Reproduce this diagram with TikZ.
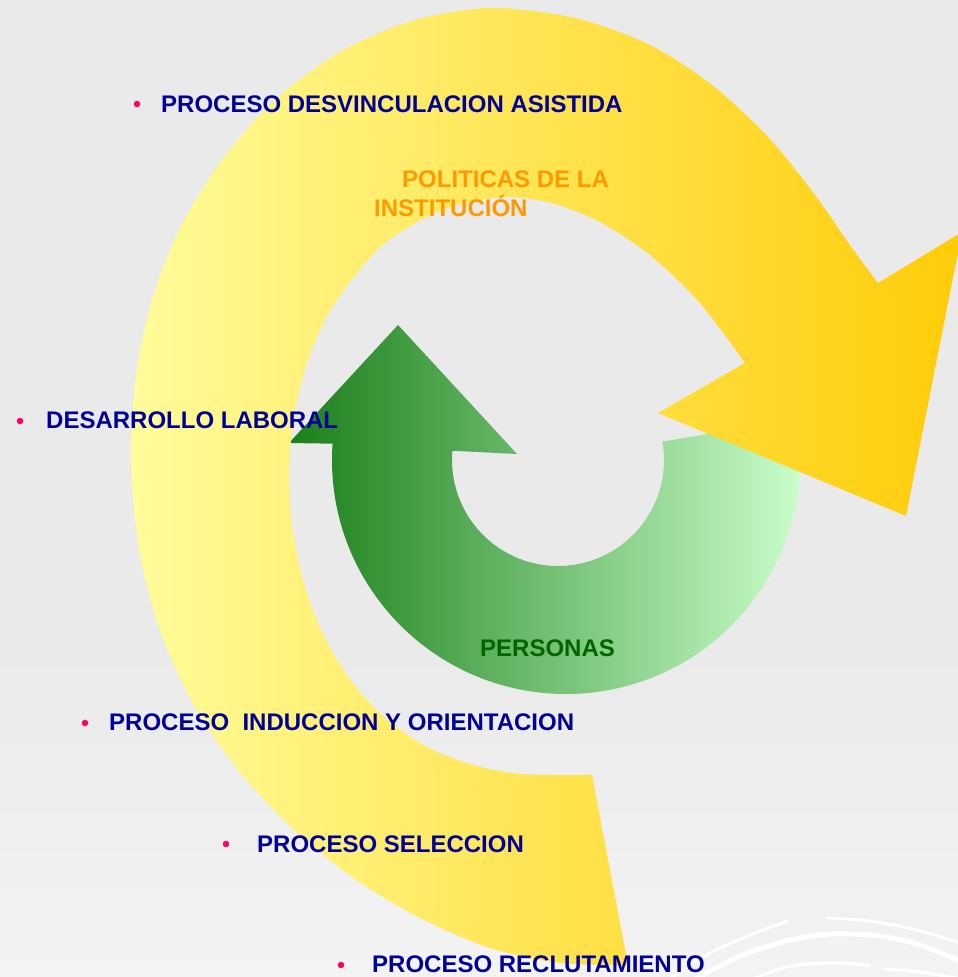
\documentclass[tikz,border=0pt]{standalone}
\usepackage{fontspec}
\setmainfont{Liberation Sans}
\usepackage{tikz}
\usetikzlibrary{calc}
\definecolor{fondo}{HTML}{EAEAEA}
\definecolor{fondoclaro}{HTML}{F3F3F3}
\definecolor{azul}{HTML}{000099}
\definecolor{naranja}{HTML}{FF9900}
\definecolor{verdetxt}{HTML}{006600}
\definecolor{rosa}{HTML}{FF0066}
\definecolor{amarilloclaro}{HTML}{FFFC9A}
\definecolor{amarillomedio}{HTML}{FFEA78}
\definecolor{amarillooscuro}{HTML}{FFCC08}
\definecolor{verdeoscuro}{HTML}{1A7F1A}
\definecolor{verdemedio}{HTML}{98D098}
\definecolor{verdeclaro}{HTML}{CCFFCC}
\tikzset{etiqueta/.style={text=azul, font=\bfseries\fontsize{24}{29}\selectfont, inner sep=0pt, anchor=base west},
	vineta/.style={circle, fill=rosa, inner sep=0pt, minimum size=6.5pt},
	amarillo/.style={left color=amarilloclaro, middle color=amarillomedio, right color=amarillooscuro},
	verde/.style={left color=verdeoscuro, middle color=verdemedio, right color=verdeclaro},
	linea/.style={draw=white, line width=3, line cap=round}}

\begin{document}
\begin{tikzpicture}[x=1pt, y=-1pt]
		\useasboundingbox (0,0) rectangle (958,977);
		\clip (0,0) rectangle (958,977);
		% fondo
		\fill[fondo] (0,0) rectangle (958,977);
		\shade[top color=fondo, bottom color=fondoclaro] (0,650) rectangle (958,977);
		\draw[linea] plot[smooth] coordinates {(668,980) (710,953) (750,935) (787,921)};
		\draw[linea] plot[smooth] coordinates {(827,918) (870,921) (917,930) (960,943)};
		\draw[linea, line width=5] plot[smooth] coordinates {(690,982) (740,956) (790,940) (833,934) (880,936) (920,945) (962,962)};
		\draw[linea] plot[smooth] coordinates {(745,982) (790,966) (840,963) (870,966)};
		\draw[linea] plot[smooth] coordinates {(885,969) (920,972) (962,979)};
		% flecha verde
		\coordinate (ci) at (558,460);
		\coordinate (ce) at (566,460);
		\shade[verde] ($(ci)+(-10:106)$) arc[start angle=-10, end angle=185, radius=106]
			-- (517,454) -- (398,325) -- (289,443)
			-- ($(ce)+(184:234)$) arc[start angle=184, end angle=-10, radius=234] -- cycle;
		% flecha amarilla
		\shade[amarillo] plot[smooth] coordinates {(628,965) (560,963) (490,948) (420,918) (352,877) (292,828) (238,770) (192,702) (158,625) (138,543) (131,458) (136,375) (152,300) (180,228) (222,160) (275,100) (340,52) (412,21) (490,8) (575,18) (650,45) (712,85) (768,137) (815,195) (852,248) (878,283)}
			-- (962,232) -- (906,516) -- (658,413)
			-- plot[smooth] coordinates {(745,363) (700,303) (650,255) (600,222) (555,204) (510,197) (465,203) (425,218) (385,243) (354,277) (326,318) (306,366) (294,417) (289,470) (292,525) (303,580) (322,632) (349,678) (383,716) (425,746) (470,764) (520,774) (592,775)} -- cycle;
		% textos
		\node[vineta] (v1) at (137,104) {};
		\node[etiqueta] (desv) at (161,112) {PROCESO DESVINCULACION ASISTIDA};
		\node[etiqueta, text=naranja, align=left] (politicas) at (374,216) {\hspace*{28pt}POLITICAS DE LA\\INSTITUCIÓN};
		\node[vineta] (v2) at (20,421) {};
		\node[etiqueta] (desarrollo) at (46,428) {DESARROLLO LABORAL};
		\node[etiqueta, text=verdetxt] (personas) at (480,656) {PERSONAS};
		\node[vineta] (v3) at (85,723) {};
		\node[etiqueta] (induccion) at (109,730) {PROCESO\ \ INDUCCION Y ORIENTACION};
		\node[vineta] (v4) at (226,844) {};
		\node[etiqueta] (seleccion) at (257,852) {PROCESO SELECCION};
		\node[vineta] (v5) at (341,965) {};
		\node[etiqueta] (reclutamiento) at (372,972) {PROCESO RECLUTAMIENTO};
\end{tikzpicture}
\end{document}
